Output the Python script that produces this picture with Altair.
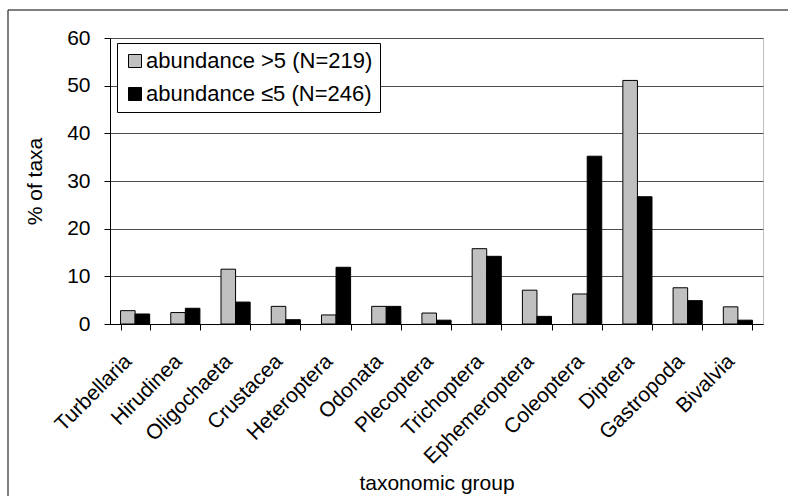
import altair as alt
import pandas as pd

# Share of taxa in each taxonomic group, split by abundance class
groups = [
    "Turbellaria", "Hirudinea", "Oligochaeta", "Crustacea", "Heteroptera",
    "Odonata", "Plecoptera", "Trichoptera", "Ephemeroptera", "Coleoptera",
    "Diptera", "Gastropoda", "Bivalvia",
]
series = ["abundance >5 (N=219)", "abundance \u22645 (N=246)"]
above5 = [2.8, 2.4, 11.5, 3.7, 1.9, 3.7, 2.3, 15.8, 7.1, 6.3, 51.1, 7.6, 3.6]
below5 = [2.1, 3.3, 4.6, 0.9, 11.9, 3.7, 0.8, 14.2, 1.6, 35.2, 26.7, 4.9, 0.8]
y_ticks = [0, 10, 20, 30, 40, 50, 60]

rows = []
for g, a, b in zip(groups, above5, below5):
    rows.append({"group": g, "series": series[0], "pct": a})
    rows.append({"group": g, "series": series[1], "pct": b})
df = pd.DataFrame(rows)

FONT = "Liberation Sans"
FS = 21
W, H = 653, 286

bars = alt.Chart(df).mark_bar(stroke="black", strokeWidth=1).encode(
    x=alt.X(
        "group:N",
        sort=groups,
        scale=alt.Scale(paddingInner=0.42, paddingOuter=0.21),
        axis=alt.Axis(
            title="taxonomic group",
            labelAngle=-45,
            labelAlign="right",
            labelBaseline="middle",
            labelPadding=28,
            labelOffset=-7,
            labelFontSize=FS,
            labelLimit=0,
            tickBand="extent",
            tickSize=6,
            tickColor="black",
            domainColor="black",
            labelColor="black",
            titleFontSize=FS,
            titleFontWeight="normal",
            titleColor="black",
            titleX=W / 2,
            titleY=159,
            titleBaseline="middle",
            titleAlign="center",
        ),
    ),
    xOffset=alt.XOffset("series:N", sort=series,
                        scale=alt.Scale(paddingInner=0, paddingOuter=0)),
    y=alt.Y(
        "pct:Q",
        scale=alt.Scale(domain=[0, 60], nice=False),
        axis=alt.Axis(
            values=y_ticks,
            title="% of taxa",
            grid=True,
            gridColor="#4d4d4d",
            gridWidth=1,
            tickSize=6,
            tickColor="black",
            domainColor="black",
            labelColor="black",
            labelFontSize=FS,
            labelPadding=14,
            titleFontSize=FS,
            titleFontWeight="normal",
            titleColor="black",
            titleX=-75,
            titleY=H / 2,
            titleAngle=-90,
            titleBaseline="middle",
            titleAlign="center",
        ),
    ),
    color=alt.Color(
        "series:N",
        sort=series,
        scale=alt.Scale(domain=series, range=["#c0c0c0", "#000000"]),
        legend=alt.Legend(
            title=None,
            orient="none",
            legendX=7,
            legendY=5,
            direction="vertical",
            strokeColor="black",
            fillColor="white",
            padding=7,
            symbolType="square",
            symbolSize=169,
            symbolStrokeColor="black",
            symbolStrokeWidth=1,
            labelFontSize=22,
            labelLimit=0,
            labelColor="black",
            labelOffset=0,
            rowPadding=11,
        ),
    ),
)

# Border drawn around the whole figure
frame = alt.Chart(pd.DataFrame({"k": [0]})).mark_rect(
    fill="transparent", stroke="black", strokeWidth=1, clip=False
).encode(
    x=alt.value(-102), x2=alt.value(700), y=alt.value(-28), y2=alt.value(520)
)

chart = alt.layer(bars, frame).properties(
    width=W,
    height=H,
    padding={"left": 110, "top": 38, "right": 25, "bottom": 172},
    autosize=alt.AutoSizeParams(type="none"),
).configure(
    font=FONT,
    background="white",
).configure_view(
    stroke="#c0c0c0",
)

chart.save("out.html", embed_options={"renderer": "svg", "actions": False})
